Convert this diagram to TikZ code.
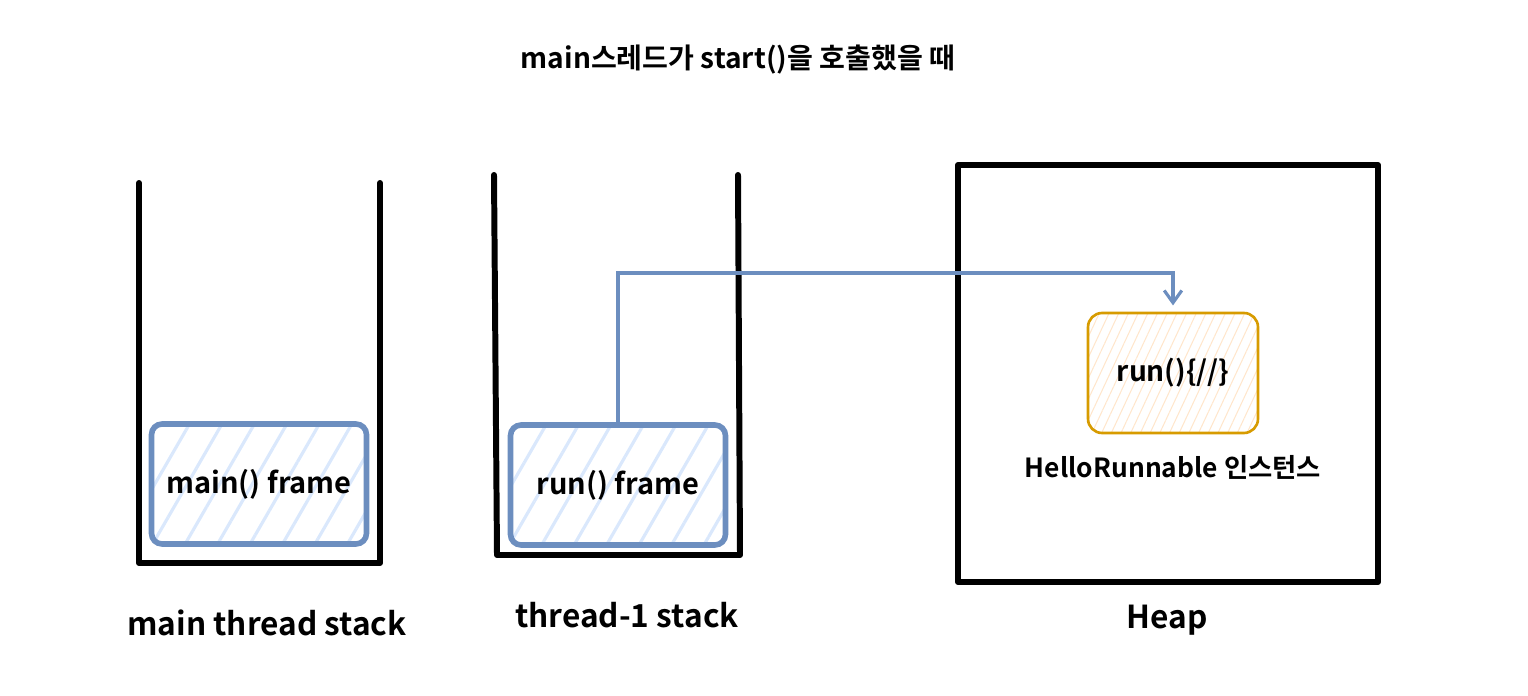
\documentclass[tikz,border=0pt]{standalone}
\usepackage{fontspec}
\setmainfont{Noto Sans CJK KR}[BoldFont={Noto Sans CJK KR Bold}]
\usetikzlibrary{arrows.meta,patterns.meta}
\definecolor{FrameClr}{HTML}{6C8EBF}
\definecolor{FrameFill}{HTML}{DAE8FC}
\definecolor{ObjClr}{HTML}{D79B00}
\definecolor{ObjFill}{HTML}{FFE6CC}

\begin{document}
\begin{tikzpicture}[x=0.02cm,y=-0.02cm,
  wall/.style={line width=3.4pt,color=black,line join=round,line cap=round},
  frame/.style={draw=FrameClr,line width=3.2pt,rounded corners=6pt,
    pattern={Lines[angle=60,distance=16pt,line width=1.8pt]},pattern color=FrameFill,
    minimum width=4.3cm,minimum height=2.4cm,font=\fontsize{16.5}{19}\selectfont\bfseries},
  obj/.style={draw=ObjClr,line width=1.5pt,rounded corners=8pt,
    pattern={Lines[angle=65,distance=5pt,line width=0.6pt]},pattern color=ObjFill,
    minimum width=3.4cm,minimum height=2.4cm,font=\fontsize{16}{19}\selectfont\bfseries},
  caption/.style={font=\fontsize{18}{21}\selectfont\bfseries},
  link/.style={draw=FrameClr,line width=1.8pt,-{Straight Barb[length=7pt,width=10pt]}}]
\useasboundingbox (0,0) rectangle (1528,696);

\node[font=\fontsize{16}{19}\selectfont\bfseries] (title) at (738,60) {main스레드가 start()을 호출했을 때};

% main thread stack
\draw[wall] (139,183) -- (139,563) -- (380,563) -- (380,183);
\node[frame] (mainf) at (259,484) {main() frame};
\node[caption] (mainl) at (267,623) {main thread stack};

% thread-1 stack
\draw[wall] (494,175) -- (497,555) -- (740,555) -- (738,175);
\node[frame] (runf) at (618,485) {run() frame};
\node[caption] (runl) at (627,615) {thread-1 stack};

% heap
\draw[wall] (958,165) rectangle (1378,582);
\node[obj] (runobj) at (1173,373) {run()\{//\}};
\node[caption,font=\fontsize{15}{18}\selectfont\bfseries] (objl) at (1173,467) {HelloRunnable 인스턴스};
\node[caption] (heapl) at (1167,620) {Heap};

\coordinate (bend) at (618,273);
\draw[link] (runf.north) -- (bend) -| ([yshift=4pt]runobj.north);
\end{tikzpicture}
\end{document}
